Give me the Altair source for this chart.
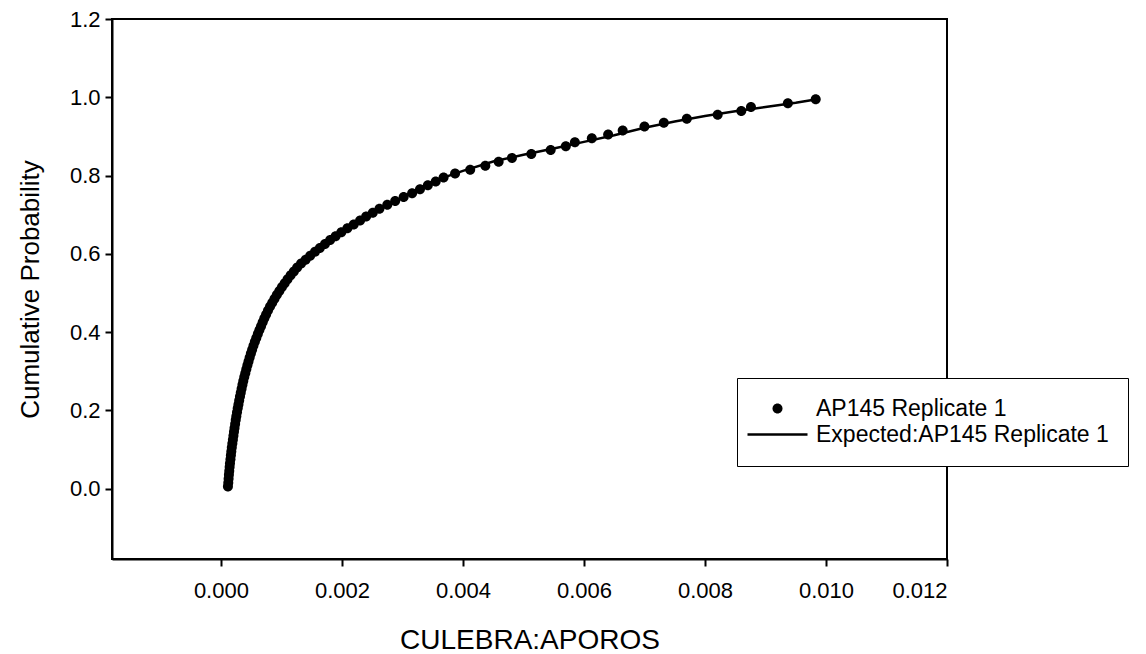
import altair as alt
import pandas as pd

# ---- data ----
series_names = ["AP145 Replicate 1", "Expected:AP145 Replicate 1"]

obs_x = [
    0.000116, 0.000122, 0.000127, 0.000132, 0.000138, 0.000144, 0.000150, 0.000158, 0.000165, 0.000172,
    0.000180, 0.000189, 0.000198, 0.000207, 0.000216, 0.000225, 0.000235, 0.000245, 0.000255, 0.000266,
    0.000278, 0.000290, 0.000302, 0.000315, 0.000328, 0.000342, 0.000356, 0.000370, 0.000386, 0.000403,
    0.000420, 0.000438, 0.000456, 0.000475, 0.000495, 0.000516, 0.000538, 0.000561, 0.000585, 0.000610,
    0.000636, 0.000663, 0.000690, 0.000718, 0.000747, 0.000778, 0.000812, 0.000848, 0.000886, 0.000925,
    0.000966, 0.001009, 0.001054, 0.001101, 0.001152, 0.001205, 0.001260, 0.001325, 0.001400, 0.001475,
    0.001555, 0.001635, 0.001720, 0.001805, 0.001895, 0.001990, 0.002090, 0.002195, 0.002300, 0.002400,
    0.002510, 0.002620, 0.002750, 0.002880, 0.003020, 0.003160, 0.003290, 0.003420, 0.003550, 0.003680,
    0.003870, 0.004120, 0.004370, 0.004590, 0.004810, 0.005130, 0.005450, 0.005700, 0.005850, 0.006130,
    0.006400, 0.006640, 0.007000, 0.007320, 0.007700, 0.008210, 0.008600, 0.008760, 0.009370, 0.009830,
]
obs_y = [
    0.005, 0.015, 0.025, 0.035, 0.045, 0.055, 0.065, 0.075, 0.085, 0.095,
    0.105, 0.115, 0.125, 0.135, 0.145, 0.155, 0.165, 0.175, 0.185, 0.195,
    0.205, 0.215, 0.225, 0.235, 0.245, 0.255, 0.265, 0.275, 0.285, 0.295,
    0.305, 0.315, 0.325, 0.335, 0.345, 0.355, 0.365, 0.375, 0.385, 0.395,
    0.405, 0.415, 0.425, 0.435, 0.445, 0.455, 0.465, 0.475, 0.485, 0.495,
    0.505, 0.515, 0.525, 0.535, 0.545, 0.555, 0.565, 0.575, 0.585, 0.595,
    0.605, 0.615, 0.625, 0.635, 0.645, 0.655, 0.665, 0.675, 0.685, 0.695,
    0.705, 0.715, 0.725, 0.735, 0.745, 0.755, 0.765, 0.775, 0.785, 0.795,
    0.805, 0.815, 0.825, 0.835, 0.845, 0.855, 0.865, 0.875, 0.885, 0.895,
    0.905, 0.915, 0.925, 0.935, 0.945, 0.955, 0.965, 0.975, 0.985, 0.995,
]

exp_x = [0.000112, 0.000125, 0.00014, 0.00016, 0.00018, 0.00022, 0.00027, 0.00033, 0.0004, 0.0005,
         0.0006, 0.0007, 0.0008, 0.0009, 0.001, 0.0012, 0.0014, 0.0016, 0.0018, 0.002,
         0.0023, 0.0026, 0.003, 0.0035, 0.004, 0.0045, 0.005, 0.0055, 0.006, 0.0065,
         0.007, 0.0075, 0.008, 0.0085, 0.009, 0.0095, 0.00985]
exp_y = [0.0, 0.02, 0.045, 0.08, 0.105, 0.152, 0.198, 0.245, 0.294, 0.347,
         0.394, 0.429, 0.461, 0.488, 0.513, 0.556, 0.585, 0.611, 0.634, 0.656,
         0.685, 0.713, 0.744, 0.785, 0.812, 0.836, 0.853, 0.869, 0.886, 0.903,
         0.922, 0.938, 0.952, 0.964, 0.975, 0.986, 0.995]

x_ticks = [0.0, 0.002, 0.004, 0.006, 0.008, 0.010, 0.012]
y_ticks = [0.0, 0.2, 0.4, 0.6, 0.8, 1.0, 1.2]

obs = pd.DataFrame({"x": obs_x, "y": obs_y, "series": series_names[0]})
exp = pd.DataFrame({"x": exp_x, "y": exp_y})

FONT = "Liberation Sans"
CIRCLE = "M-5,0A5,5,0,1,1,5,0A5,5,0,1,1,-5,0Z"
LINE = "M-30,-1.3H30V1.3H-30Z"

xscale = alt.Scale(domain=[-0.0018, 0.012], nice=False, zero=False)
yscale = alt.Scale(domain=[-0.18, 1.2], nice=False, zero=False)

xaxis = alt.Axis(title="CULEBRA:APOROS", values=x_ticks, format=".3f", grid=False,
                 labelFontSize=22, titleFontSize=28, tickSize=7, labelPadding=14,
                 titleX=417.5, titleY=81, titleBaseline="middle", titleAlign="center")
yaxis = alt.Axis(title="Cumulative Probability", values=y_ticks, format=".1f", grid=False,
                 labelFontSize=22, titleFontSize=26, tickSize=7, labelPadding=5,
                 titleX=-82, titleY=270, titleAngle=270, titleBaseline="middle", titleAlign="center")

line = alt.Chart(exp).mark_line(color="black", strokeWidth=2.5).encode(
    x=alt.X("x:Q", scale=xscale, axis=xaxis),
    y=alt.Y("y:Q", scale=yscale, axis=yaxis),
)

points = alt.Chart(obs).mark_point(filled=True, color="black", size=4, opacity=1).encode(
    x=alt.X("x:Q", scale=xscale, axis=xaxis),
    y=alt.Y("y:Q", scale=yscale, axis=yaxis),
    shape=alt.Shape("series:N",
                    scale=alt.Scale(domain=series_names, range=[CIRCLE, LINE]),
                    legend=alt.Legend(title=None, orient="none", legendX=625, legendY=359,
                                      labelFont=FONT, labelFontSize=23, labelColor="black",
                                      labelLimit=600, padding=19, strokeColor="black",
                                      fillColor="white", symbolSize=4, symbolOffset=10,
                                      labelOffset=27, symbolStrokeWidth=0,
                                      symbolFillColor="black",
                                      rowPadding=2, cornerRadius=0)),
)

chart = alt.layer(line, points).properties(
    width=835, height=540,
    autosize=alt.AutoSizeParams(type="none"),
    padding={"left": 112, "top": 19, "right": 199, "bottom": 95},
    background="white",
).configure_view(stroke="black", strokeWidth=2).configure_axis(
    domainColor="black", domainWidth=2, tickColor="black", tickWidth=2,
    labelColor="black", titleColor="black", labelFont=FONT, titleFont=FONT,
    titleFontWeight="normal",
)

chart.save("out.html", embed_options={"renderer": "svg", "actions": False})
